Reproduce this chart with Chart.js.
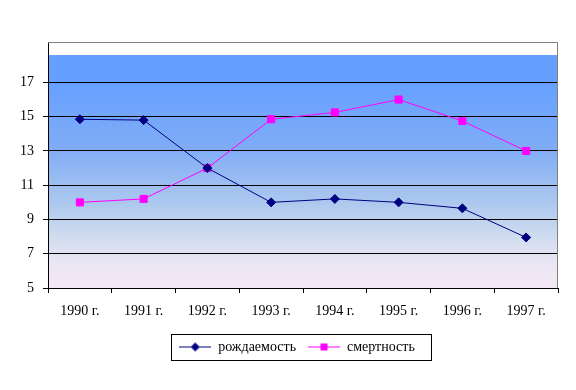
<!DOCTYPE html>
<html>
<head>
<meta charset="utf-8">
<script src="https://cdn.jsdelivr.net/npm/chart.js@4/dist/chart.umd.min.js"></script>
<style>
  body { margin: 0; background: #fff; }
  #wrap { width: 576px; height: 390px; }
</style>
</head>
<body>
<div id="wrap"><canvas id="myChart" width="576" height="390"></canvas></div>
<script>
//============== DATA ===============
const years = ['1990 г.', '1991 г.', '1992 г.', '1993 г.', '1994 г.', '1995 г.', '1996 г.', '1997 г.'];
const birthRate = [14.85, 14.8, 12.0, 10.0, 10.2, 10.0, 9.65, 7.95];
const deathRate = [10.0, 10.2, 12.0, 14.85, 15.25, 16.0, 14.75, 13.0];
const yTicks = [5, 7, 9, 11, 13, 15, 17];

const serif = '"Liberation Serif", "Times New Roman", serif';

// little line + marker pictures for the legend
function legendIcon(color, shape) {
	const c = document.createElement('canvas');
	c.width = 32; c.height = 11;
	const g = c.getContext('2d');
	g.strokeStyle = color;
	g.lineWidth = 1;
	g.beginPath();
	g.moveTo(0, 5.5); g.lineTo(32, 5.5);
	g.stroke();
	g.fillStyle = color;
	g.beginPath();
	if (shape == 'diamond') {
		g.moveTo(16, 1); g.lineTo(20.5, 5.5); g.lineTo(16, 10); g.lineTo(11.5, 5.5);
		g.closePath();
	} else {
		g.rect(12.5, 2, 7, 7);
	}
	g.fill();
	return c;
}
const icons = [legendIcon('#000080', 'diamond'), legendIcon('#ff00ff', 'square')];

//============== PLOT BACKGROUND ===============
const plotBack = {
	id: 'plotBack',
	afterLayout(chart) {
		// legend sits a bit right of the page centre
		chart.legend.left += 18;
		chart.legend.right += 18;
	},
	beforeDraw(chart) {
		const {ctx, chartArea: a, scales} = chart;
		const top = scales.y.getPixelForValue(18.6);
		const grad = ctx.createLinearGradient(0, top, 0, a.bottom);
		grad.addColorStop(0, '#66a0ff');
		grad.addColorStop(0.12, '#66a0ff');
		grad.addColorStop(0.4, '#80acf6');
		grad.addColorStop(0.62, '#a9c6ef');
		grad.addColorStop(0.78, '#d0dcef');
		grad.addColorStop(0.9, '#ece6f4');
		grad.addColorStop(1, '#f4e8f6');
		ctx.save();
		ctx.fillStyle = grad;
		ctx.fillRect(a.left, top, a.right - a.left, a.bottom - top);
		ctx.restore();
	},
	afterDraw(chart) {
		const {ctx, chartArea: a} = chart;
		ctx.save();
		ctx.strokeStyle = '#808080';
		ctx.lineWidth = 1;
		ctx.beginPath();
		ctx.moveTo(a.left, a.top + 0.5);
		ctx.lineTo(a.right - 0.5, a.top + 0.5);
		ctx.lineTo(a.right - 0.5, a.bottom);
		ctx.stroke();
		// legend frame
		const boxes = chart.legend.legendHitBoxes;
		if (boxes && boxes.length) {
			const l = Math.min(...boxes.map(b => b.left)) - 8;
			const r = Math.max(...boxes.map(b => b.left + b.width)) + 16;
			const t = boxes[0].top - 6;
			const h = boxes[0].height + 12;
			ctx.strokeStyle = '#000';
			ctx.strokeRect(Math.round(l) + 0.5, Math.round(t) + 0.5, Math.round(r - l), Math.round(h));
		}
		ctx.restore();
	}
};

//============== CHART ===============
const myChart = document.getElementById('myChart');

let lineChart = new Chart(myChart, {
	type: 'line',
	data: {
		labels: years,
		datasets: [{
			label: 'рождаемость',
			data: birthRate,
			borderColor: '#000080',
			backgroundColor: '#000080',
			borderWidth: 1,
			pointStyle: 'rectRot',
			pointRadius: 4.5,
			pointHoverRadius: 4.5,
			tension: 0
		}, {
			label: 'смертность',
			data: deathRate,
			borderColor: '#ff00ff',
			backgroundColor: '#ff00ff',
			borderWidth: 1,
			pointStyle: 'rect',
			pointRadius: 5,
			pointHoverRadius: 5,
			tension: 0
		}]
	},
	options: {
		responsive: false,
		animation: false,
		layout: {
			padding: {top: 42, right: 18, bottom: 26, left: 0}
		},
		scales: {
			x: {
				offset: true,
				grid: {
					offset: true,
					drawOnChartArea: false,
					color: '#000',
					tickLength: 5
				},
				border: {color: '#000'},
				ticks: {
					color: '#000',
					padding: 10,
					maxRotation: 0,
					font: {family: serif, size: 14}
				},
				afterFit: s => { s.height = 40; }
			},
			y: {
				min: 5,
				max: 19.36,
				afterBuildTicks: s => { s.ticks = yTicks.map(v => ({value: v})); },
				grid: {
					color: '#000',
					tickLength: 5
				},
				border: {color: '#000'},
				ticks: {
					color: '#000',
					padding: 9,
					font: {family: serif, size: 14}
				},
				afterFit: s => { s.width = 48; }
			}
		},
		plugins: {
			legend: {
				position: 'bottom',
				labels: {
					usePointStyle: true,
					pointStyleWidth: 32,
					padding: 12,
					color: '#000',
					font: {family: serif, size: 14},
					generateLabels: chart => {
						const items = Chart.defaults.plugins.legend.labels.generateLabels(chart);
						items.forEach((it, i) => { it.pointStyle = icons[i]; });
						return items;
					}
				}
			},
			tooltip: {enabled: false}
		}
	},
	plugins: [plotBack]
});
</script>
</body>
</html>
